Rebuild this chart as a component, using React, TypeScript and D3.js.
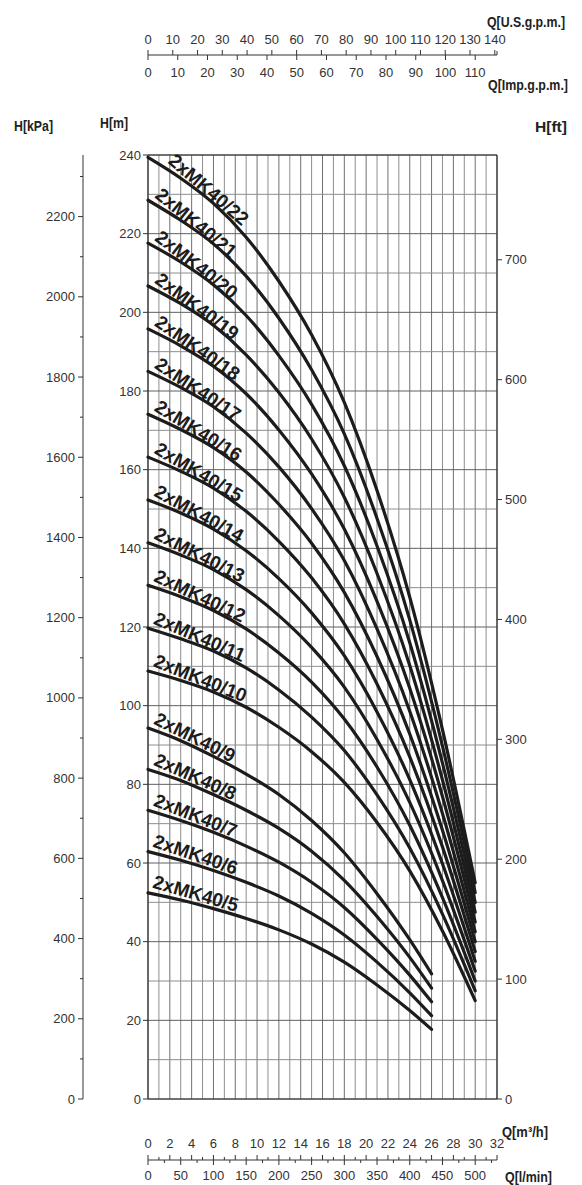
import * as d3 from "d3";

// flow points (m3/h)
const flowSmall = [0, 3, 6, 9, 12, 15, 18, 21, 24, 26]; // 2xMK40/5 .. /9
const flowLarge = [0, 3, 6, 9, 12, 15, 18, 21, 24, 27, 30]; // 2xMK40/10 .. /22

// head (m) per model
const head5 = [52.4, 50.6, 48.4, 45.9, 43.0, 39.4, 34.8, 29.0, 22.5, 17.7];
const head6 = [62.9, 60.7, 58.1, 55.1, 51.6, 47.2, 41.7, 34.8, 27.0, 21.2];
const head7 = [73.4, 70.8, 67.8, 64.3, 60.2, 55.1, 48.7, 40.6, 31.5, 24.7];
const head8 = [83.8, 81.0, 77.4, 73.4, 68.8, 63.0, 55.6, 46.4, 36.0, 28.2];
const head9 = [94.3, 91.1, 87.1, 82.6, 77.4, 70.8, 62.6, 52.2, 40.5, 31.8];
const head10 = [108.8, 106.4, 103.5, 99.6, 94.5, 88.3, 80.5, 70.3, 58.0, 42.7, 25.0];
const head11 = [119.7, 117.0, 113.9, 109.6, 104.0, 97.1, 88.6, 77.3, 63.8, 47.0, 27.5];
const head12 = [130.6, 127.7, 124.2, 119.5, 113.4, 106.0, 96.6, 84.4, 69.6, 51.2, 30.0];
const head13 = [141.4, 138.3, 134.6, 129.5, 122.9, 114.8, 104.7, 91.4, 75.4, 55.5, 32.5];
const head14 = [152.3, 149.0, 144.9, 139.4, 132.3, 123.6, 112.7, 98.4, 81.2, 59.8, 35.0];
const head15 = [163.2, 159.6, 155.3, 149.4, 141.8, 132.5, 120.8, 105.5, 87.0, 64.1, 37.5];
const head16 = [174.1, 170.2, 165.6, 159.4, 151.2, 141.3, 128.8, 112.5, 92.8, 68.3, 40.0];
const head17 = [185.0, 180.9, 176.0, 169.3, 160.7, 150.1, 136.9, 119.5, 98.6, 72.6, 42.5];
const head18 = [195.8, 191.5, 186.3, 179.3, 170.1, 158.9, 144.9, 126.5, 104.4, 76.9, 45.0];
const head19 = [206.7, 202.2, 196.7, 189.2, 179.6, 167.8, 153.0, 133.6, 110.2, 81.1, 47.5];
const head20 = [217.6, 212.8, 207.0, 199.2, 189.0, 176.6, 161.0, 140.6, 116.0, 85.4, 50.0];
const head21 = [228.5, 223.4, 217.4, 209.2, 198.5, 185.4, 169.1, 147.6, 121.8, 89.7, 52.5];
const head22 = [239.4, 234.1, 227.7, 219.1, 207.9, 194.3, 177.1, 154.7, 127.6, 93.9, 55.0];

const models = [
  { name: "2xMK40/5", q: flowSmall, h: head5 },
  { name: "2xMK40/6", q: flowSmall, h: head6 },
  { name: "2xMK40/7", q: flowSmall, h: head7 },
  { name: "2xMK40/8", q: flowSmall, h: head8 },
  { name: "2xMK40/9", q: flowSmall, h: head9 },
  { name: "2xMK40/10", q: flowLarge, h: head10 },
  { name: "2xMK40/11", q: flowLarge, h: head11 },
  { name: "2xMK40/12", q: flowLarge, h: head12 },
  { name: "2xMK40/13", q: flowLarge, h: head13 },
  { name: "2xMK40/14", q: flowLarge, h: head14 },
  { name: "2xMK40/15", q: flowLarge, h: head15 },
  { name: "2xMK40/16", q: flowLarge, h: head16 },
  { name: "2xMK40/17", q: flowLarge, h: head17 },
  { name: "2xMK40/18", q: flowLarge, h: head18 },
  { name: "2xMK40/19", q: flowLarge, h: head19 },
  { name: "2xMK40/20", q: flowLarge, h: head20 },
  { name: "2xMK40/21", q: flowLarge, h: head21 },
  { name: "2xMK40/22", q: flowLarge, h: head22 },
];

// tick values
const headTicks = [0, 20, 40, 60, 80, 100, 120, 140, 160, 180, 200, 220, 240];
const kpaTicks = [0, 200, 400, 600, 800, 1000, 1200, 1400, 1600, 1800, 2000, 2200];
const ftTicks = [0, 100, 200, 300, 400, 500, 600, 700];
const usTicks = [0, 10, 20, 30, 40, 50, 60, 70, 80, 90, 100, 110, 120, 130, 140];
const impTicks = [0, 10, 20, 30, 40, 50, 60, 70, 80, 90, 100, 110];
const m3hTicks = [0, 2, 4, 6, 8, 10, 12, 14, 16, 18, 20, 22, 24, 26, 28, 30, 32];
const lminTicks = [0, 50, 100, 150, 200, 250, 300, 350, 400, 450, 500];

const font = "'Liberation Sans', Arial, sans-serif";
const tickColor = "#333";

// axis titles, squeezed like a narrow bold face
const titles = [
  { text: "Q[U.S.g.p.m.]", x: 487, y: 27, len: 78 },
  { text: "Q[Imp.g.p.m.]", x: 488, y: 90, len: 80 },
  { text: "H[kPa]", x: 14, y: 131, len: 39 },
  { text: "H[m]", x: 100, y: 128, len: 28 },
  { text: "H[ft]", x: 535, y: 132, len: 32 },
  { text: "Q[m³/h]", x: 502, y: 1137, len: 46 },
  { text: "Q[l/min]", x: 505, y: 1182, len: 47 },
];

export default function App() {
  const x = d3.scaleLinear().domain([0, 32]).range([148, 497]);
  const y = d3.scaleLinear().domain([0, 240]).range([1099, 155]);
  const yKpa = d3.scaleLinear().domain([0, 240 * 9.80665]).range([1099, 155]);
  const yFt = d3.scaleLinear().domain([0, 240 / 0.3048]).range([1099, 155]);
  const xUs = d3.scaleLinear().domain([0, 32 / 0.2271247]).range([148, 497]);
  const xImp = d3.scaleLinear().domain([0, 32 / 0.2727654]).range([148, 497]);
  const xLmin = d3.scaleLinear().domain([0, 32000 / 60]).range([148, 497]);

  const line = d3
    .line<[number, number]>()
    .x((d) => x(d[0]))
    .y((d) => y(d[1]))
    .curve(d3.curveMonotoneX);

  const gridQ = d3.range(0, 33, 1);
  const gridH = d3.range(0, 241, 10);
  const kpaMinor = d3.range(100, 2400, 200);
  const m3hMinor = d3.range(1, 32, 2);
  const lminMinor = d3.range(25, 533, 50);

  const [x0, x1] = x.range();
  const [yb, yt] = y.range();

  return (
    <svg
      width={582}
      height={1185}
      style={{ position: "absolute", left: 0, top: 0, background: "#fff" }}
      fontFamily={font}
    >
      {/* grid */}
      <g>
        {gridQ.map((q) => (
          <line key={"v" + q} x1={x(q)} x2={x(q)} y1={yt} y2={yb} stroke={q % 2 ? "#8e8e8e" : "#707070"} strokeWidth={1} />
        ))}
        {gridH.map((h) => (
          <line key={"h" + h} x1={x0} x2={x1} y1={y(h)} y2={y(h)} stroke={h % 20 ? "#8e8e8e" : "#606060"} strokeWidth={1} />
        ))}
        <line x1={x0} x2={x0} y1={yt} y2={yb} stroke="#333" strokeWidth={1.2} />
        <line x1={x1} x2={x1} y1={yt} y2={yb} stroke="#333" strokeWidth={1.2} />
        <line x1={x0} x2={x1} y1={yt} y2={yt} stroke="#333" strokeWidth={1.2} />
        <line x1={x0} x2={x1} y1={yb} y2={yb} stroke="#333" strokeWidth={1.2} />
      </g>

      {/* H[m] axis */}
      <g fontSize={13} fill={tickColor}>
        {headTicks.map((h) => (
          <g key={"m" + h}>
            <line x1={x0 - 5} x2={x0} y1={y(h)} y2={y(h)} stroke="#333" />
            <text x={x0 - 7} y={y(h) + 4.5} textAnchor="end">{h}</text>
          </g>
        ))}
      </g>

      {/* H[kPa] axis */}
      <g fontSize={13} fill={tickColor}>
        <line x1={83} x2={83} y1={yt} y2={yb} stroke="#333" />
        {kpaTicks.map((k) => (
          <g key={"k" + k}>
            <line x1={78} x2={83} y1={yKpa(k)} y2={yKpa(k)} stroke="#333" />
            <text x={75} y={yKpa(k) + 4.5} textAnchor="end">{k}</text>
          </g>
        ))}
        {kpaMinor.map((k) => (
          <line key={"km" + k} x1={80} x2={83} y1={yKpa(k)} y2={yKpa(k)} stroke="#333" />
        ))}
      </g>

      {/* H[ft] axis */}
      <g fontSize={13} fill={tickColor}>
        {ftTicks.map((f) => (
          <g key={"f" + f}>
            <line x1={x1} x2={x1 + 5} y1={yFt(f)} y2={yFt(f)} stroke="#333" />
            <text x={x1 + 8} y={yFt(f) + 4.5}>{f}</text>
          </g>
        ))}
      </g>

      {/* top gpm axes */}
      <g fontSize={13} fill={tickColor}>
        <line x1={x0} x2={x1} y1={55} y2={55} stroke="#333" />
        {usTicks.map((u) => (
          <g key={"u" + u}>
            <line x1={xUs(u)} x2={xUs(u)} y1={50} y2={55} stroke="#333" />
            <text x={xUs(u)} y={44} textAnchor="middle">{u}</text>
          </g>
        ))}
        {impTicks.map((u) => (
          <g key={"i" + u}>
            <line x1={xImp(u)} x2={xImp(u)} y1={55} y2={60} stroke="#333" />
            <text x={xImp(u)} y={77} textAnchor="middle">{u}</text>
          </g>
        ))}
        <line x1={x1} x2={x1} y1={51} y2={55} stroke="#333" />
      </g>

      {/* bottom flow axes */}
      <g fontSize={13} fill={tickColor}>
        <line x1={x0} x2={x1} y1={1160} y2={1160} stroke="#333" />
        {m3hTicks.map((q) => (
          <g key={"q" + q}>
            <line x1={x(q)} x2={x(q)} y1={1155} y2={1160} stroke="#333" />
            <text x={x(q)} y={1147.5} textAnchor="middle">{q}</text>
          </g>
        ))}
        {m3hMinor.map((q) => (
          <line key={"qm" + q} x1={x(q)} x2={x(q)} y1={1157} y2={1160} stroke="#333" />
        ))}
        {lminTicks.map((l) => (
          <g key={"l" + l}>
            <line x1={xLmin(l)} x2={xLmin(l)} y1={1160} y2={1165} stroke="#333" />
            <text x={xLmin(l)} y={1180} textAnchor="middle">{l}</text>
          </g>
        ))}
        {lminMinor.map((l) => (
          <line key={"lm" + l} x1={xLmin(l)} x2={xLmin(l)} y1={1160} y2={1163} stroke="#333" />
        ))}
      </g>

      {/* curves */}
      <g fill="none" stroke="#1c1c1c" strokeWidth={3.2} strokeLinecap="round">
        {models.map((m) => (
          <path key={m.name} d={line(m.q.map((q, i) => [q, m.h[i]] as [number, number])) || ""} />
        ))}
      </g>

      {/* curve labels, sitting just above each curve */}
      <g fontSize={19} fontWeight="bold" fill="#1c1c1c">
        {models.map((m, idx) => {
          const lq = idx === models.length - 1 ? 1.4 : 0.2;
          const dx = x(m.q[3]) - x(m.q[0]);
          const dy = y(m.h[3]) - y(m.h[0]);
          const ang = (Math.atan2(dy, dx) * 180) / Math.PI + 1.5;
          const hq = m.h[0] + ((m.h[1] - m.h[0]) * lq) / m.q[1];
          const r = (ang * Math.PI) / 180;
          const px = x(lq) + Math.sin(r) * 6;
          const py = y(hq) - Math.cos(r) * 6;
          return (
            <text key={"t" + m.name} transform={`translate(${px},${py}) rotate(${ang})`}>
              {m.name}
            </text>
          );
        })}
      </g>

      {/* axis titles */}
      <g fontWeight="bold" fontSize={15} fill="#222">
        {titles.map((t) => (
          <text key={t.text} x={t.x} y={t.y} textLength={t.len} lengthAdjust="spacingAndGlyphs">
            {t.text}
          </text>
        ))}
      </g>
    </svg>
  );
}
